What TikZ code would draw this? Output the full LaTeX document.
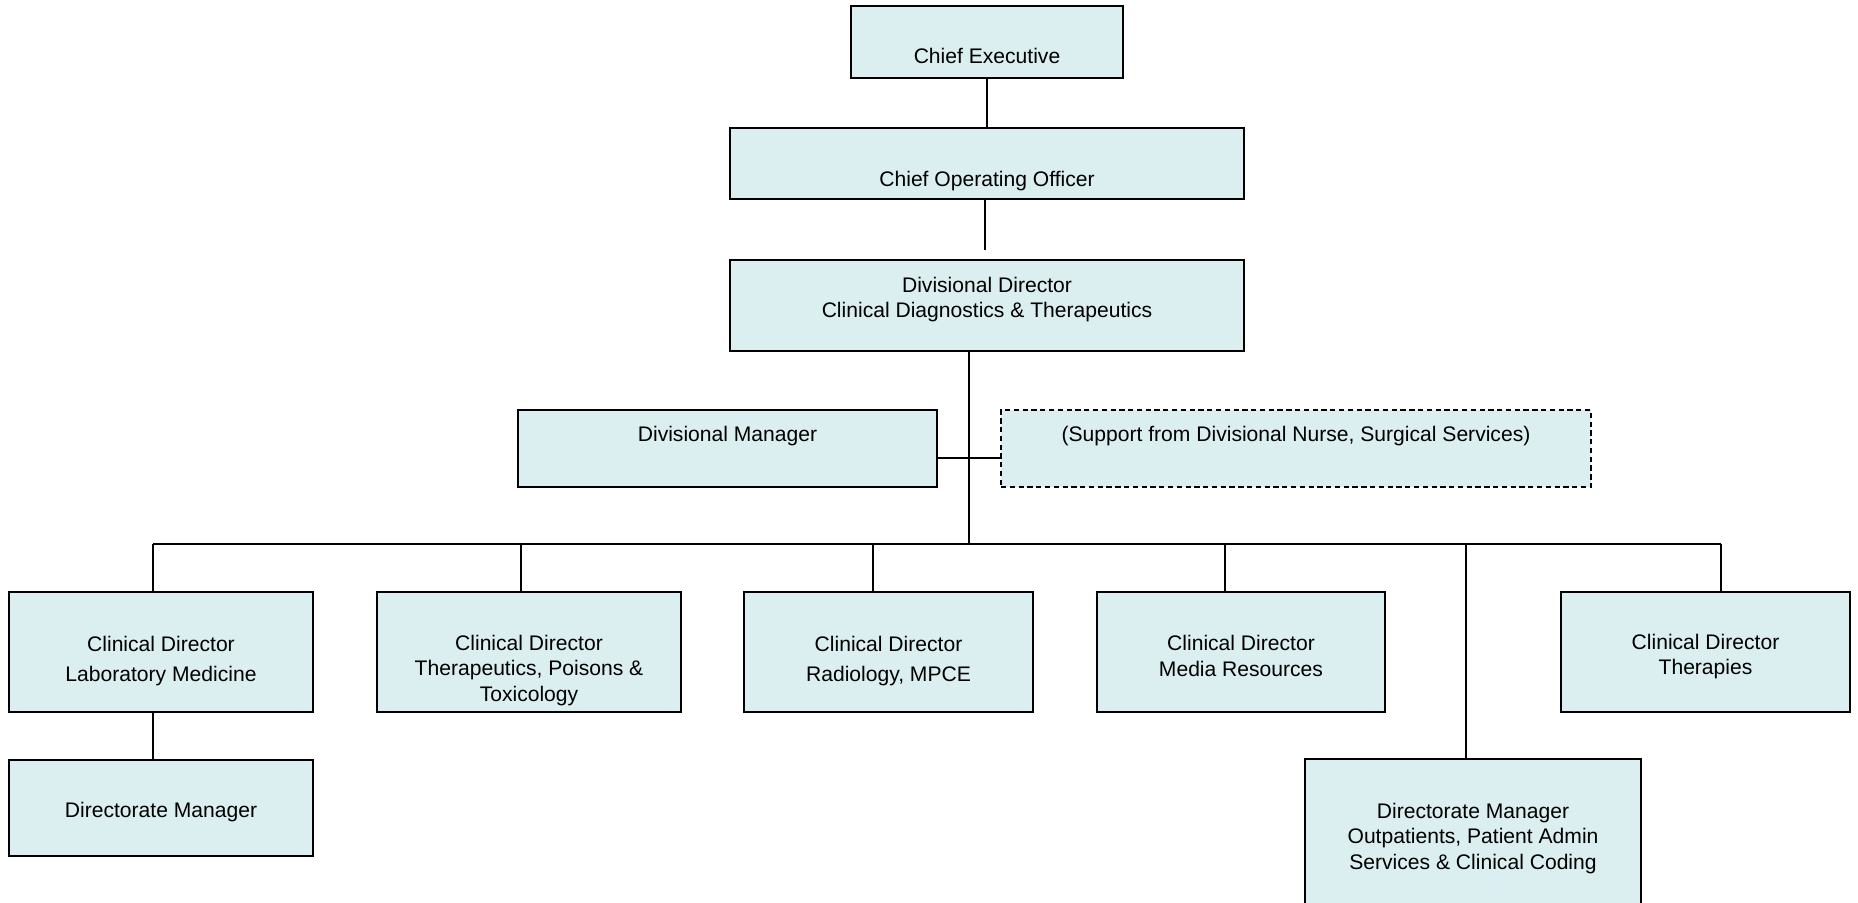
\documentclass[tikz,border=0pt]{standalone}
\usepackage{fontspec}
\setmainfont{Liberation Sans}
\usepackage{tikz}
\usetikzlibrary{shapes.geometric}
\usetikzlibrary{arrows,shapes}
\definecolor{boxfill}{RGB}{219,238,240}

\begin{document}
\begin{tikzpicture}
\useasboundingbox (0,0) rectangle (37.16,-18.04);
\tikzstyle{box2}=[rectangle, draw, fill=boxfill, line width=1pt, align=center,
    inner ysep=2pt, font=\fontsize{12}{14.5}\selectfont]
\tikzstyle{line2}=[line width=1pt]

\node[box2, minimum width = 5.44cm,
    minimum height = 1.44cm] (ce) at (19.74,-0.84) {\strut\\Chief Executive};
\node[box2, minimum width = 10.28cm,
    minimum height = 1.42cm] (coo) at (19.74,-3.27) {\strut\rule{0pt}{14pt}\\Chief Operating Officer};
\node[box2, minimum width = 10.28cm,
    minimum height = 1.82cm] (dd) at (19.74,-6.11) {Divisional Director\\Clinical Diagnostics \& Therapeutics\rule[-9.3pt]{0pt}{9.3pt}};

\node[box2, minimum width = 8.38cm,
    minimum height = 1.54cm] (dm) at (14.55,-8.97) {\rule{0pt}{11pt}Divisional Manager\\\strut};
\node[box2, dash pattern=on 3pt off 2pt, minimum width = 11.8cm,
    minimum height = 1.54cm] (sup) at (25.92,-8.97) {\rule{0pt}{11pt}(Support from Divisional Nurse, Surgical Services)\\\strut};

\node[box2, minimum width = 6.08cm,
    minimum height = 2.4cm] (lab) at (3.22,-13.04) {\rule{0pt}{19pt}Clinical Director\\[2.5pt]Laboratory Medicine};
\node[box2, minimum width = 6.08cm,
    minimum height = 2.4cm] (ther) at (10.58,-13.04) {\strut\rule{0pt}{14.8pt}\\Clinical Director\\Therapeutics, Poisons \&\\Toxicology};
\node[box2, minimum width = 5.78cm,
    minimum height = 2.4cm] (rad) at (17.77,-13.04) {\rule{0pt}{19pt}Clinical Director\\[2.5pt]Radiology, MPCE};
\node[box2, minimum width = 5.76cm,
    minimum height = 2.4cm] (media) at (24.82,-13.04) {\rule{0pt}{13.4pt}Clinical Director\\Media Resources};
\node[box2, minimum width = 5.78cm,
    minimum height = 2.4cm] (thera) at (34.11,-13.04) {\rule{0pt}{14pt}Clinical Director\\Therapies};

\node[box2, minimum width = 6.08cm,
    minimum height = 1.92cm] (dirm) at (3.22,-16.16) {\rule{0pt}{13.4pt}Directorate Manager};
\node[box2, minimum width = 6.72cm,
    minimum height = 3cm] (out) at (29.46,-16.68) {\rule{0pt}{13.4pt}Directorate Manager\\Outpatients, Patient Admin\\Services \& Clinical Coding};

% bus and drops
\coordinate (gap) at (19.7,-5.0);
\coordinate (trunk) at (19.38,-10.88);
\coordinate (b1) at (3.06,-10.88);
\coordinate (b2) at (10.42,-10.88);
\coordinate (b3) at (17.46,-10.88);
\coordinate (b4) at (24.5,-10.88);
\coordinate (b5) at (29.32,-10.88);
\coordinate (b6) at (34.42,-10.88);

\draw[line2] (ce) -- (coo);
\draw[line2] (coo.south -| gap) -- (gap);
\draw[line2] (trunk |- dd.south) -- (trunk);
\draw[line2] ([yshift=-0.19cm]dm.east) -- ([yshift=-0.19cm]sup.west);
\draw[line2] (b1) -- (b6);
\foreach \b/\n in {b1/lab, b2/ther, b3/rad, b4/media, b5/out, b6/thera}
  \draw[line2] (\b) -- (\b |- \n.north);
\draw[line2] (b1 |- lab.south) -- (b1 |- dirm.north);
\end{tikzpicture}
\end{document}
